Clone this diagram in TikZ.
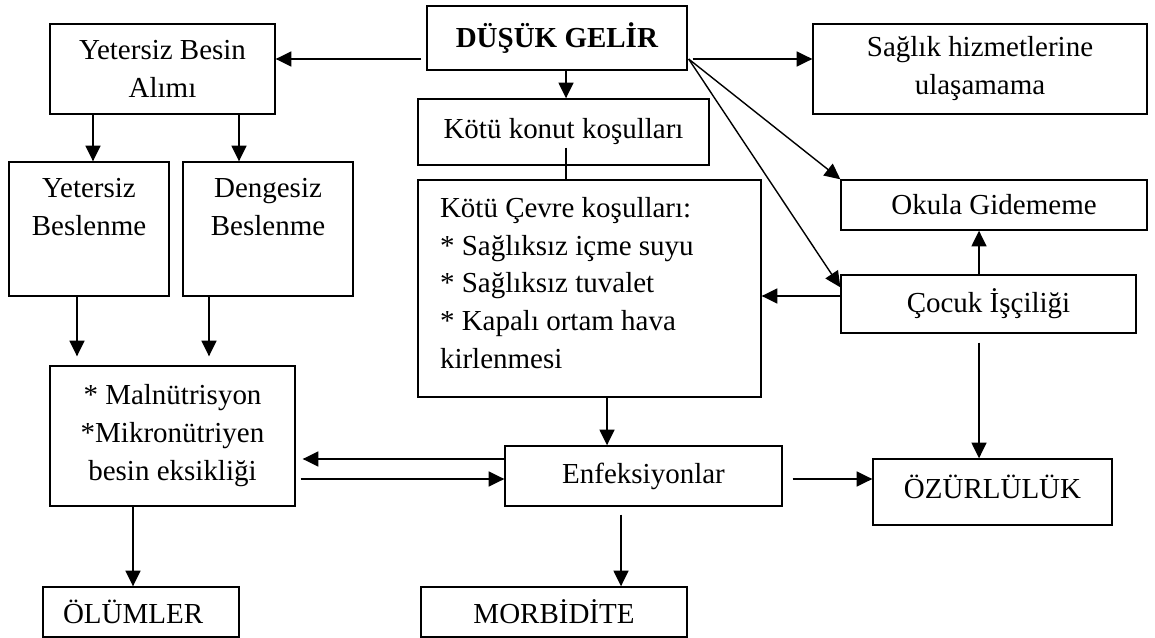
\documentclass[tikz,border=0pt]{standalone}
\usepackage{fontspec}
\setmainfont{Liberation Serif}
\usetikzlibrary{positioning, calc, arrows.meta}

\begin{document}
\begin{tikzpicture}[x=0.02cm, y=-0.02cm,
    box/.style={draw, line width=0.75pt, inner sep=0pt, align=center,
        font=\fontsize{16.5}{21.6}\selectfont},
    arr/.style={line width=1.1pt, -{Triangle[length=9pt, width=8.5pt]}},
    diag/.style={line width=0.8pt, -{Triangle[length=9pt, width=8.5pt]}}]
    \useasboundingbox (0,0) rectangle (1155,638);

    % top row
    \node[box, minimum width=5.2cm, minimum height=1.28cm] (gelir) at (557,38) {\textbf{DÜŞÜK GELİR}};
    \node[box, minimum width=4.5cm, minimum height=1.8cm] (yba) at (162.5,69) {Yetersiz Besin\\Alımı};
    \node[box, minimum width=6.68cm, minimum height=1.8cm] (saglik) at (980,69) {Sağlık hizmetlerine\\ulaşamama};
    \node[box, minimum width=5.82cm, minimum height=1.32cm] (konut) at (563.5,132) {Kötü konut koşulları};

    % middle
    \node[box, minimum width=3.2cm, minimum height=2.68cm, text depth=0.88cm] (ybes) at (89,229) {Yetersiz\\Beslenme};
    \node[box, minimum width=3.4cm, minimum height=2.68cm, text depth=0.88cm] (dbes) at (268,229) {Dengesiz\\Beslenme};
    \node[box, minimum width=6.86cm, minimum height=4.34cm, text width=5.98cm, align=flush left, text depth=3.26cm] (cevre) at (589.5,288.5)
        {Kötü Çevre koşulları:\\{}* Sağlıksız içme suyu\\{}* Sağlıksız tuvalet\\{}* Kapalı ortam hava\\kirlenmesi};
    \node[box, minimum width=6.12cm, minimum height=1cm] (okula) at (994,205) {Okula Gidememe};
    \node[box, minimum width=5.9cm, minimum height=1.16cm] (cocuk) at (988.5,304) {Çocuk İşçiliği};

    % lower rows
    \node[box, minimum width=4.9cm, minimum height=2.8cm] (mal) at (172.5,436) {* Malnütrisyon\\{}*Mikronütriyen\\besin eksikliği};
    \node[box, minimum width=5.54cm, minimum height=1.2cm] (enf) at (643.5,476) {Enfeksiyonlar};
    \node[box, minimum width=4.78cm, minimum height=1.32cm, text depth=0.2cm] (ozur) at (992.5,492) {ÖZÜRLÜLÜK};
    \node[box, minimum width=3.92cm, minimum height=1cm, text width=3.12cm, align=flush left] (olum) at (141,612) {ÖLÜMLER};
    \node[box, minimum width=5.32cm, minimum height=1cm] (morb) at (554,612) {MORBİDİTE};

    % arrows out of the income box
    \coordinate (gout) at ($(gelir.east)+(1,21)$);
    \draw[arr] ($(gelir.west)+(-5,21)$) coordinate (g1) -- (g1 -| yba.east);
    \draw[arr] ($(gelir.east)+(5,21)$) coordinate (g2) -- (g2 -| saglik.west);
    \draw[arr] ($(gelir.south)+(9,0)$) coordinate (g3) -- (g3 |- konut.north);
    \draw[diag] (gout) -- (okula.north west);
    \draw[diag] (gout) -- ($(cocuk.north west)+(0,13)$);
    \draw[line width=0.6pt] ($(konut.south)+(2.5,-18)$) coordinate (k1) -- (k1 |- cevre.north);

    % nutrition side
    \draw[arr] ($(yba.south)+(-69.5,0)$) coordinate (a1) -- (a1 |- ybes.north);
    \draw[arr] ($(yba.south)+(76.5,0)$) coordinate (a2) -- (a2 |- dbes.north);
    \draw[arr] ($(ybes.south)+(-12,0)$) coordinate (b1) -- ($(b1 |- mal.north)+(0,-9)$);
    \draw[arr] ($(dbes.south)+(-59,0)$) coordinate (b2) -- ($(b2 |- mal.north)+(0,-9)$);
    \draw[arr] ($(mal.south)+(-39.5,0)$) coordinate (m1) -- (m1 |- olum.north);
    \draw[arr] ($(enf.west)+(0,-17)$) coordinate (e1) -- ($(e1 -| mal.east)+(7,0)$);
    \draw[arr] ($(mal.east)+(5,43)$) coordinate (m2) -- (m2 -| enf.west);

    % infections and child labour
    \draw[arr] ($(cevre.south)+(17.5,0)$) coordinate (c1) -- (c1 |- enf.north);
    \draw[arr] ($(enf.south)+(-22.5,8)$) coordinate (e2) -- (e2 |- morb.north);
    \draw[arr] ($(enf.east)+(10,3)$) coordinate (e3) -- (e3 -| ozur.west);
    \draw[arr] ($(cocuk.south)+(-9.5,9)$) coordinate (c2) -- (c2 |- ozur.north);
    \draw[arr] ($(cocuk.north)+(-9.5,0)$) coordinate (c3) -- (c3 |- okula.south);
    \draw[arr] ($(cocuk.west)+(0,-8)$) coordinate (c4) -- (c4 -| cevre.east);
\end{tikzpicture}
\end{document}
